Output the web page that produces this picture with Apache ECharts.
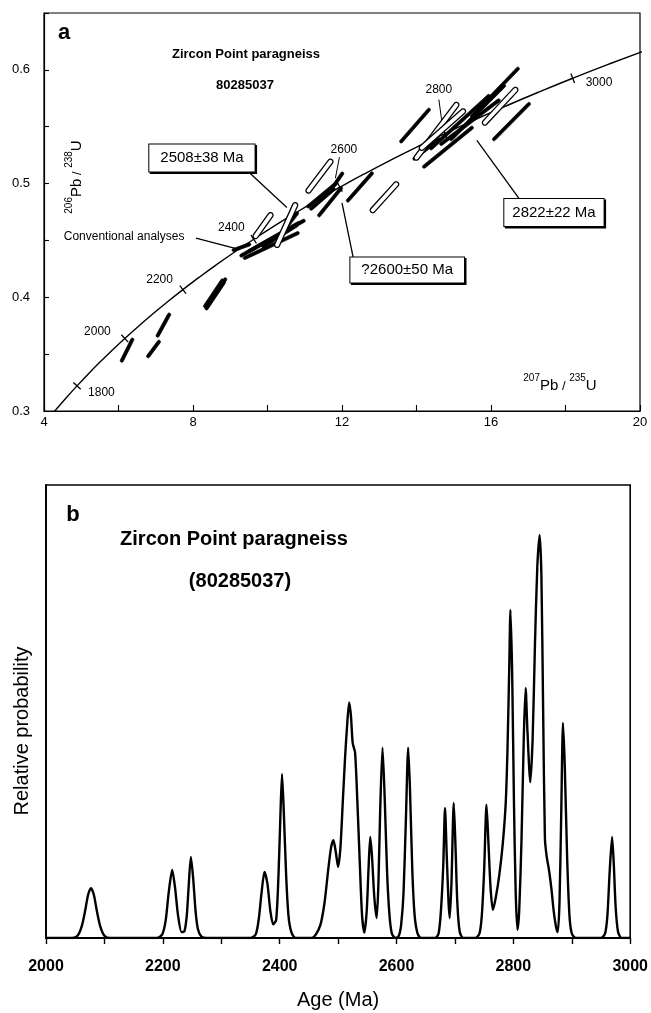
<!DOCTYPE html>
<html>
<head>
<meta charset="utf-8">
<script src="https://cdn.jsdelivr.net/npm/echarts@6/dist/echarts.min.js"></script>
<style>
  html, body { margin: 0; padding: 0; background: #fff; }
  #chart { width: 651px; height: 1013px; }
</style>
</head>
<body>
<div id="chart"></div>
<script>
// ---------- Panel a: U-Pb concordia ----------
// Decay constants (per year)
const LAMBDA_238 = 1.55125e-10;
const LAMBDA_235 = 9.8485e-10;

// Ages (Ma) along the concordia reference curve
const concordiaAges = [1650, 1700, 1750, 1800, 1850, 1900, 1950, 2000, 2050, 2100, 2150, 2200,
  2250, 2300, 2350, 2400, 2450, 2500, 2550, 2600, 2650, 2700, 2750, 2800, 2850, 2900,
  2950, 3000, 3050, 3100, 3150];
// Labelled age ticks on the concordia
const concordiaTickAges = [1800, 2000, 2200, 2400, 2600, 2800, 3000];

// Error ellipses: [207Pb/235U start, 206Pb/238U start, 207Pb/235U end, 206Pb/238U end]
const solidEllipses = [
  [6.07, 0.343, 6.39, 0.364],
  [6.77, 0.347, 7.11, 0.362],
  [7.03, 0.365, 7.38, 0.386],
  [8.30, 0.391, 8.81, 0.416],
  [8.34, 0.389, 8.85, 0.414],
  [8.38, 0.392, 8.89, 0.417],
  [9.05, 0.441, 9.55, 0.447],
  [9.26, 0.436, 10.87, 0.466],
  [9.35, 0.434, 10.85, 0.457],
  [9.48, 0.440, 11.01, 0.468],
  [9.85, 0.444, 10.82, 0.464],
  [10.28, 0.452, 10.82, 0.475],
  [11.06, 0.479, 11.87, 0.501],
  [11.14, 0.477, 11.81, 0.496],
  [11.36, 0.471, 12.00, 0.497],
  [11.76, 0.497, 12.03, 0.510],
  [12.13, 0.484, 12.83, 0.510],
  [13.56, 0.536, 14.36, 0.566],
  [13.91, 0.521, 14.63, 0.540],
  [14.17, 0.514, 15.52, 0.550],
  [14.36, 0.530, 15.97, 0.578],
  [14.63, 0.534, 16.24, 0.574],
  [14.90, 0.538, 16.38, 0.587],
  [15.46, 0.558, 16.75, 0.602],
  [16.05, 0.538, 17.05, 0.571]
];
const openEllipses = [
  [9.64, 0.452, 10.12, 0.474],
  [10.23, 0.444, 10.77, 0.483],
  [11.06, 0.492, 11.73, 0.521],
  [12.78, 0.475, 13.50, 0.501],
  [13.96, 0.521, 15.11, 0.571],
  [14.09, 0.530, 15.30, 0.565],
  [15.79, 0.552, 16.70, 0.584]
];

// Age estimates called out on the diagram
const callouts = ['2508±38 Ma', '?2600±50 Ma', '2822±22 Ma'];

// ---------- Panel b: probability density of ages ----------
const ageMa = [
  2000, 2045, 2054, 2061, 2067, 2072, 2077, 2082, 2087, 2093, 2100, 2110,
  2190, 2199, 2205, 2210, 2216, 2221, 2226, 2232, 2237, 2241, 2244, 2248, 2252, 2256, 2260, 2266, 2275,
  2350, 2359, 2364, 2369, 2374, 2379, 2384, 2389, 2394, 2398, 2401, 2404, 2407, 2411, 2415, 2420, 2427,
  2455, 2462, 2470, 2477, 2483, 2488, 2492, 2496, 2500, 2504, 2508, 2512, 2516, 2519, 2522, 2525, 2529, 2533, 2537, 2541, 2545,
  2549, 2552, 2555, 2558, 2562, 2566, 2569, 2572, 2576, 2580, 2584, 2588, 2592, 2598,
  2604, 2608, 2612, 2616, 2620, 2623, 2627, 2631, 2636, 2642,
  2666, 2672, 2676, 2680, 2683, 2686, 2689, 2691, 2694, 2698, 2701, 2704, 2708, 2714,
  2735, 2742, 2746, 2750, 2754, 2757, 2761, 2765, 2770, 2776, 2782, 2787, 2790, 2793, 2795, 2798, 2801, 2804, 2807,
  2810, 2814, 2818, 2821, 2824, 2829, 2833, 2837, 2841, 2845, 2848, 2851, 2854, 2857, 2861, 2865, 2869, 2873, 2876,
  2879, 2882, 2885, 2888, 2892, 2896, 2900, 2907,
  2950, 2957, 2961, 2965, 2969, 2972, 2975, 2979, 2985, 3000
];
const relProb = [
  0, 0, 0.5, 2.5, 6, 9.5, 11, 9.5, 6, 2.5, 0.5, 0,
  0, 0.8, 4, 10, 15, 11, 5, 1.3, 1.5, 5, 11, 17.9, 13, 6, 2, 0.3, 0,
  0, 0.8, 4, 10, 14.6, 12, 6, 3, 4, 14, 26, 36.2, 28, 14, 5, 1.3, 0,
  0, 0.8, 3, 8, 15, 20, 21.6, 19, 15.7, 20, 30, 40, 48, 52, 49, 43, 41, 30, 17, 5, 1.2,
  6, 15, 22.3, 18, 9, 4.4, 12, 28, 42, 30, 14, 5, 1, 0,
  0.5, 3, 10, 26, 42, 33, 15, 5, 1, 0,
  0, 1, 6, 16, 28.7, 18, 8, 4.4, 12, 29.8, 20, 8, 1.5, 0,
  0, 1, 5, 15, 29.4, 22, 11, 6.2, 9, 14, 21, 30, 42, 60, 72.4, 58, 30, 10, 1.8,
  6, 22, 45, 55.2, 46, 34.4, 44, 65, 82, 89, 80, 50, 22, 18, 15, 11, 6, 2.5, 1.3,
  8, 28, 47.5, 38, 18, 5, 1, 0,
  0, 1, 5, 15, 22.3, 16, 7, 1.5, 0, 0
];

// ---------- helpers ----------
const FONT = '"Liberation Sans", Arial, Helvetica, sans-serif';

function concordiaPoint(t) {
  return [Math.exp(LAMBDA_235 * t * 1e6) - 1, Math.exp(LAMBDA_238 * t * 1e6) - 1];
}

// Where each concordia age label sits relative to its tick (pixels)
const tickLabelPlacement = {
  1800: { dx: 11, dy: 7, align: 'left' },
  2000: { dx: -14, dy: -7, align: 'right' },
  2200: { dx: -10, dy: -10, align: 'right' },
  2400: { dx: -9, dy: -12, align: 'right' },
  2600: { dx: 4, dy: -38, align: 'center', leader: [[-0.5, -30], [-4.5, -9]] },
  2800: { dx: -6, dy: -44, align: 'center', leader: [[-6, -34], [-3, -12]] },
  3000: { dx: 13, dy: 4, align: 'left' }
};

function renderConcordiaTick(params, api) {
  const t = api.value(2);
  const p = api.coord([api.value(0), api.value(1)]);
  const a = api.coord(concordiaPoint(t - 10));
  const b = api.coord(concordiaPoint(t + 10));
  let dx = b[0] - a[0], dy = b[1] - a[1];
  const len = Math.hypot(dx, dy);
  dx /= len; dy /= len;
  const nx = -dy, ny = dx, h = 5;
  const place = tickLabelPlacement[t] || { dx: -10, dy: -10, align: 'right' };
  const children = [
    { type: 'line', shape: { x1: p[0] - nx * h, y1: p[1] - ny * h, x2: p[0] + nx * h, y2: p[1] + ny * h },
      style: { stroke: '#000', lineWidth: 1.3 } },
    { type: 'text', style: { text: String(t), x: p[0] + place.dx, y: p[1] + place.dy,
      align: place.align, verticalAlign: 'middle', fill: '#000', font: '12px ' + FONT } }
  ];
  if (place.leader) {
    const [s, e] = place.leader;
    children.push({ type: 'line', shape: { x1: p[0] + s[0], y1: p[1] + s[1], x2: p[0] + e[0], y2: p[1] + e[1] },
      style: { stroke: '#000', lineWidth: 1 } });
  }
  return { type: 'group', children };
}

// Highly elongated error ellipses drawn as rounded capsules along their long axis
function makeEllipseRenderer(open) {
  return function (params, api) {
    const p1 = api.coord([api.value(0), api.value(1)]);
    const p2 = api.coord([api.value(2), api.value(3)]);
    const cx = (p1[0] + p2[0]) / 2, cy = (p1[1] + p2[1]) / 2;
    const ang = Math.atan2(p2[1] - p1[1], p2[0] - p1[0]);
    const half = Math.hypot(p2[0] - p1[0], p2[1] - p1[1]) / 2;
    const r = open ? 2.5 : 1.6;
    const body = Math.max(half - r, 0);
    const ca = Math.cos(ang), sa = Math.sin(ang);
    const pts = [];
    const n = 12;
    for (let k = 0; k <= n; k++) {
      const u = -Math.PI / 2 + (Math.PI * k) / n;
      pts.push([body + r * Math.cos(u), r * Math.sin(u)]);
    }
    for (let k = 0; k <= n; k++) {
      const u = Math.PI / 2 + (Math.PI * k) / n;
      pts.push([-body + r * Math.cos(u), r * Math.sin(u)]);
    }
    const world = pts.map(([lx, ly]) => [cx + lx * ca - ly * sa, cy + lx * sa + ly * ca]);
    return {
      type: 'polygon', shape: { points: world },
      style: open ? { fill: '#fff', stroke: '#000', lineWidth: 1.3 }
                  : { fill: '#000', stroke: '#000', lineWidth: 0.7 }
    };
  };
}

const boxLabel = {
  show: true, position: 'inside', formatter: (p) => p.name, color: '#000',
  fontFamily: FONT, fontSize: 15, backgroundColor: '#fff', borderColor: '#000', borderWidth: 1,
  padding: [6, 11], shadowColor: '#000', shadowOffsetX: 1.5, shadowOffsetY: 1.5, shadowBlur: 0
};

const richRatio = {
  main: { fontSize: 15, fontFamily: FONT, fill: '#000', lineHeight: 20, verticalAlign: 'bottom' },
  sl: { fontSize: 13, fontFamily: FONT, fill: '#000', lineHeight: 20, verticalAlign: 'bottom' },
  sup: { fontSize: 10, fontFamily: FONT, fill: '#000', lineHeight: 20, verticalAlign: 'top' }
};

const chart = echarts.init(document.getElementById('chart'), null, { renderer: 'canvas' });

chart.setOption({
  animation: false,
  backgroundColor: '#fff',
  grid: [
    { left: 44, right: 11, top: 13, bottom: 602, show: true, borderColor: '#000', borderWidth: 1.2, backgroundColor: 'transparent' },
    { left: 46, right: 14, top: 485, bottom: 75, show: true, borderColor: '#000', borderWidth: 1.6, backgroundColor: 'transparent' }
  ],
  xAxis: [
    {
      gridIndex: 0, type: 'value', min: 4, max: 20, interval: 2,
      axisLine: { lineStyle: { color: '#000', width: 1.2 } },
      axisTick: { inside: true, length: 6, lineStyle: { color: '#000', width: 1.1 } },
      axisLabel: { color: '#000', fontSize: 13, fontFamily: FONT, margin: 5,
        formatter: (v) => (v % 4 === 0 ? String(v) : '') },
      splitLine: { show: false }
    },
    {
      gridIndex: 1, type: 'value', min: 2000, max: 3000, interval: 100,
      axisLine: { lineStyle: { color: '#000', width: 1.8 } },
      axisTick: { inside: false, length: 6, lineStyle: { color: '#000', width: 1.4 } },
      axisLabel: { color: '#000', fontSize: 16, fontWeight: 'bold', fontFamily: FONT, margin: 21,
        formatter: (v) => (v % 200 === 0 ? String(v) : '') },
      splitLine: { show: false },
      name: 'Age (Ma)', nameLocation: 'middle', nameGap: 52,
      nameTextStyle: { color: '#000', fontSize: 20, fontFamily: FONT }
    }
  ],
  yAxis: [
    {
      gridIndex: 0, type: 'value', min: 0.3, max: 0.65, interval: 0.05,
      axisLine: { lineStyle: { color: '#000', width: 1.2 } },
      axisTick: { inside: true, length: 5, lineStyle: { color: '#000', width: 1.1 } },
      axisLabel: { color: '#000', fontSize: 13, fontFamily: FONT, margin: 14,
        formatter: (v) => (Math.abs(v * 10 - Math.round(v * 10)) < 1e-6 && v < 0.62 ? v.toFixed(1) : '') },
      splitLine: { show: false }
    },
    {
      gridIndex: 1, type: 'value', min: 0, max: 100,
      axisLine: { show: true, lineStyle: { color: '#000', width: 1.8 } },
      axisTick: { show: false }, axisLabel: { show: false }, splitLine: { show: false }
    }
  ],
  series: [
    {
      name: 'Concordia', type: 'line', xAxisIndex: 0, yAxisIndex: 0,
      data: concordiaAges.map(concordiaPoint), smooth: true, symbol: 'none',
      lineStyle: { color: '#000', width: 1.4 }, z: 3,
      markLine: {
        silent: true, symbol: ['none', 'arrow'], symbolSize: [0, 9],
        lineStyle: { color: '#000', width: 1.3, type: 'solid' }, label: { show: false },
        data: [
          [{ coord: [9.53, 0.509] }, { coord: [10.52, 0.479] }],
          [{ coord: [12.30, 0.435] }, { coord: [12.0, 0.483] }],
          [{ coord: [16.75, 0.487] }, { coord: [15.62, 0.538] }],
          [{ coord: [8.08, 0.452] }, { coord: [9.26, 0.442] }]
        ]
      },
      markPoint: {
        silent: true, symbol: 'rect', symbolSize: 1, itemStyle: { color: 'rgba(0,0,0,0)' },
        label: boxLabel,
        data: [
          { name: callouts[0], coord: [8.24, 0.5225] },
          { name: callouts[1], coord: [13.75, 0.424], label: { padding: [5, 11] } },
          { name: callouts[2], coord: [17.69, 0.4746], label: { padding: [6, 8] } },
          { name: 'Conventional analyses', coord: [6.15, 0.453],
            label: { fontSize: 12, backgroundColor: 'transparent', borderWidth: 0, padding: 0, shadowColor: 'transparent' } }
        ]
      }
    },
    {
      name: 'Concordia ticks', type: 'custom', xAxisIndex: 0, yAxisIndex: 0,
      data: concordiaTickAges.map((t) => concordiaPoint(t).concat([t])),
      encode: { x: 0, y: 1 }, renderItem: renderConcordiaTick, z: 4, silent: true
    },
    {
      name: 'Analyses (solid)', type: 'custom', xAxisIndex: 0, yAxisIndex: 0,
      data: solidEllipses, encode: { x: [0, 2], y: [1, 3] },
      renderItem: makeEllipseRenderer(false), z: 5, silent: true
    },
    {
      name: 'Analyses (open)', type: 'custom', xAxisIndex: 0, yAxisIndex: 0,
      data: openEllipses, encode: { x: [0, 2], y: [1, 3] },
      renderItem: makeEllipseRenderer(true), z: 6, silent: true
    },
    {
      name: 'Relative probability', type: 'line', xAxisIndex: 1, yAxisIndex: 1,
      data: ageMa.map((a, i) => [a, relProb[i]]), smooth: 0.25, symbol: 'none',
      lineStyle: { color: '#000', width: 2.4 }, z: 3
    }
  ],
  graphic: [
    { type: 'text', left: 58, top: 22, style: { text: 'a', font: 'bold 22px ' + FONT, fill: '#000' } },
    { type: 'text', x: 246, y: 54, style: { text: 'Zircon Point paragneiss', font: 'bold 13px ' + FONT, fill: '#000', align: 'center', verticalAlign: 'middle' } },
    { type: 'text', x: 245, y: 85, style: { text: '80285037', font: 'bold 13px ' + FONT, fill: '#000', align: 'center', verticalAlign: 'middle' } },
    {
      type: 'text', x: 74, y: 177, rotation: Math.PI / 2,
      style: { text: '{sup|206}{main|Pb}{sl| / }{sup|238}{main|U}', align: 'center', verticalAlign: 'middle', fill: '#000', rich: richRatio }
    },
    {
      type: 'text', x: 560, y: 383,
      style: { text: '{sup|207}{main|Pb}{sl| / }{sup|235}{main|U}', align: 'center', verticalAlign: 'middle', fill: '#000', rich: richRatio }
    },
    { type: 'text', x: 73, y: 515, style: { text: 'b', font: 'bold 22px ' + FONT, fill: '#000', align: 'center', verticalAlign: 'middle' } },
    { type: 'text', x: 234, y: 539, style: { text: 'Zircon Point paragneiss', font: 'bold 20px ' + FONT, fill: '#000', align: 'center', verticalAlign: 'middle' } },
    { type: 'text', x: 240, y: 581, style: { text: '(80285037)', font: 'bold 20px ' + FONT, fill: '#000', align: 'center', verticalAlign: 'middle' } },
    { type: 'text', x: 22, y: 731, rotation: Math.PI / 2, style: { text: 'Relative probability', font: '20px ' + FONT, fill: '#000', align: 'center', verticalAlign: 'middle' } }
  ]
});
</script>
</body>
</html>
